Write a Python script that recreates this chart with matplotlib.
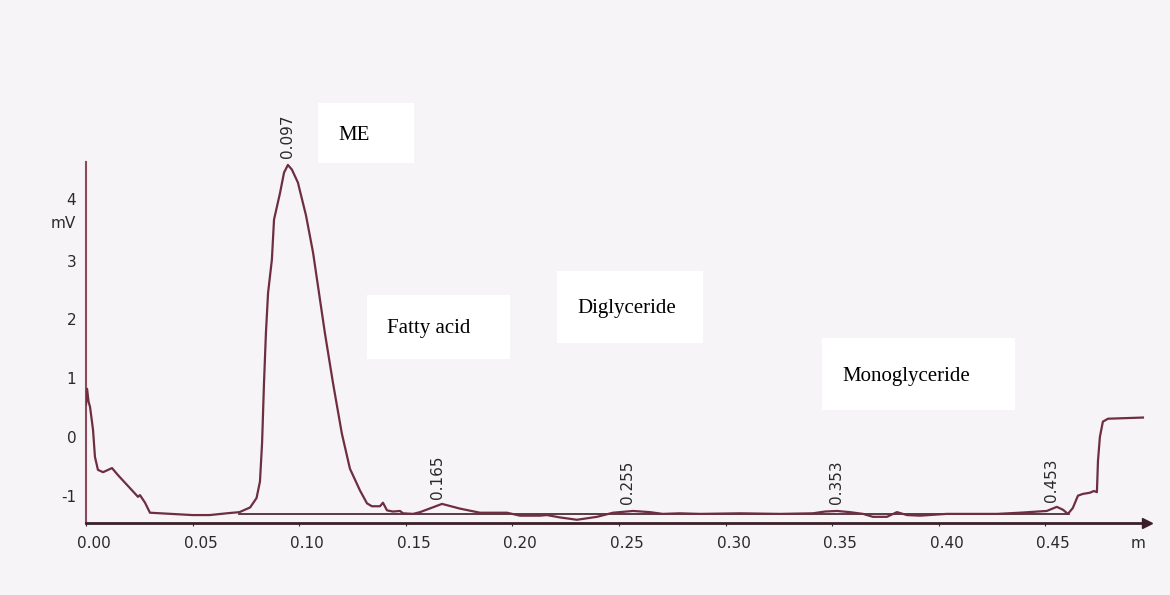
import numpy as np
import matplotlib
matplotlib.use('Agg')
import matplotlib.pyplot as plt
from matplotlib.patches import Rectangle
from matplotlib.transforms import ScaledTranslation, blended_transform_factory

plt.rcParams['axes.unicode_minus'] = False

# detector trace (time in min, signal in mV)
time_min = [0.000, 0.0005, 0.0012, 0.0019, 0.0033, 0.0042, 0.0056, 0.008, 0.0122, 0.015,
            0.0206, 0.0244, 0.0253, 0.0277, 0.030, 0.040, 0.050, 0.058, 0.066, 0.072,
            0.077, 0.080, 0.0816, 0.0826, 0.0835, 0.0844, 0.0854, 0.0872, 0.0882, 0.091,
            0.0929, 0.0947, 0.0966, 0.0994, 0.1032, 0.1065, 0.1093, 0.1121, 0.1159, 0.120,
            0.1238, 0.1285, 0.1318, 0.1341, 0.1379, 0.1393, 0.1412, 0.144, 0.1473, 0.1487,
            0.1534, 0.1567, 0.167, 0.1754, 0.1848, 0.1975, 0.2036, 0.213, 0.2162, 0.2223,
            0.2303, 0.2397, 0.2472, 0.2566, 0.2645, 0.2706, 0.2786, 0.288, 0.3068, 0.3255,
            0.341, 0.3466, 0.3523, 0.3583, 0.3645, 0.3691, 0.3757, 0.3804, 0.3851, 0.3912,
            0.4038, 0.4273, 0.4381, 0.4507, 0.4554, 0.4583, 0.4606, 0.4629, 0.4653, 0.4676,
            0.4709, 0.4728, 0.4742, 0.4747, 0.4756, 0.477, 0.4794, 0.4958]
signal_mv = [0.55, 0.82, 0.60, 0.51, 0.12, -0.34, -0.56, -0.60, -0.53, -0.65,
             -0.87, -1.02, -0.99, -1.12, -1.29, -1.31, -1.33, -1.33, -1.30, -1.28,
             -1.20, -1.04, -0.76, -0.10, 0.92, 1.77, 2.45, 3.02, 3.70, 4.15,
             4.50, 4.63, 4.55, 4.33, 3.77, 3.14, 2.45, 1.76, 0.91, 0.06,
             -0.54, -0.91, -1.13, -1.18, -1.18, -1.12, -1.25, -1.27, -1.26, -1.30,
             -1.31, -1.28, -1.14, -1.22, -1.29, -1.29, -1.34, -1.34, -1.33, -1.37,
             -1.41, -1.36, -1.29, -1.26, -1.28, -1.31, -1.30, -1.31, -1.30, -1.31,
             -1.30, -1.27, -1.26, -1.28, -1.31, -1.36, -1.36, -1.28, -1.33, -1.34,
             -1.31, -1.31, -1.29, -1.26, -1.19, -1.24, -1.31, -1.21, -1.00, -0.97,
             -0.95, -0.92, -0.94, -0.41, 0.00, 0.26, 0.31, 0.33]

# integration baseline drawn by the integrator
baseline_t = [0.072, 0.461]
baseline_mv = [-1.31, -1.31]

peak_times = [0.097, 0.165, 0.255, 0.353, 0.453]
peak_label_x = [0.0947, 0.165, 0.254, 0.352, 0.453]

x_ticks = [0.00, 0.05, 0.10, 0.15, 0.20, 0.25, 0.30, 0.35, 0.40, 0.45]
y_ticks = [-1, 0, 1, 2, 3, 4]

# compound boxes: (label, left px, top px, width px, height px)
compound_boxes = [('ME', 318, 103, 96, 60),
                  ('Fatty acid', 367, 295, 143, 64),
                  ('Diglyceride', 557, 271, 146, 72),
                  ('Monoglyceride', 822, 338, 193, 72)]

W, H = 1170, 595
fig = plt.figure(figsize=(W / 100, H / 100), dpi=100, facecolor='#f6f4f6')
ax = fig.add_axes([86 / W, 1 - 523 / H, (1147 - 86) / W, (523 - 162) / H])
ax.set_facecolor('none')

trace_col = '#6e2e40'
ax.plot(time_min, signal_mv, color=trace_col, lw=1.6, solid_joinstyle='round', zorder=3)
ax.plot(baseline_t, baseline_mv, color='#3c1c28', lw=1.2, zorder=2)

ax.set_xlim(0, 0.4977)
ax.set_ylim(-1.465, 4.68)

for s in ['top', 'right']:
    ax.spines[s].set_visible(False)
ax.spines['left'].set_color('#8c4a5a')
ax.spines['left'].set_linewidth(1.5)
ax.spines['bottom'].set_color('#3a1f28')
ax.spines['bottom'].set_linewidth(2)
ax.plot(1, 0, '>', color='#3a1f28', ms=7, transform=ax.transAxes, clip_on=False)

ax.set_xticks(x_ticks)
ax.set_xticklabels([f'{v:.2f}' for v in x_ticks])
ax.set_yticks(y_ticks)
ax.set_yticklabels([str(v) for v in y_ticks])
ax.tick_params(axis='x', length=2, pad=7, labelsize=11, colors='#2a2a2a')
ax.tick_params(axis='y', length=0, pad=7, labelsize=11, colors='#2a2a2a')
off = ScaledTranslation(8 / 100, 0, fig.dpi_scale_trans)
for lab in ax.get_xticklabels():
    lab.set_transform(lab.get_transform() + off)
# lift the "4" a little so the unit sits under it
lift = ScaledTranslation(0, 3 / 100, fig.dpi_scale_trans)
ax.get_yticklabels()[-1].set_transform(ax.get_yticklabels()[-1].get_transform() + lift)

ax.text(0.992, -0.035, 'm', transform=ax.transAxes, ha='center', va='top',
        fontsize=11, color='#2a2a2a')
ytrans = blended_transform_factory(ax.transAxes, ax.transData)
ax.text(-0.01, 3.64, 'mV', transform=ytrans, ha='right', va='center',
        fontsize=11, color='#2a2a2a')

# retention time labels above the peaks
for pt, lx in zip(peak_times, peak_label_x):
    py = np.interp(lx, time_min, signal_mv)
    ax.annotate(f'{pt:.3f}', (lx, py), xytext=(0, 5), textcoords='offset points',
                rotation=90, ha='center', va='bottom', fontsize=11,
                color='#2a2a2a', annotation_clip=False)

# white pasted-in compound labels
for name, left, top, w, h in compound_boxes:
    fig.patches.append(Rectangle((left / W, 1 - (top + h) / H), w / W, h / H,
                                 transform=fig.transFigure, facecolor='white',
                                 edgecolor='none', zorder=5))
    fig.text((left + 20) / W, 1 - (top + h / 2 + 2) / H, name, family='Liberation Serif',
             fontsize=15, ha='left', va='center', color='black', zorder=6)

fig.savefig('out.png', dpi=100, facecolor=fig.get_facecolor())
